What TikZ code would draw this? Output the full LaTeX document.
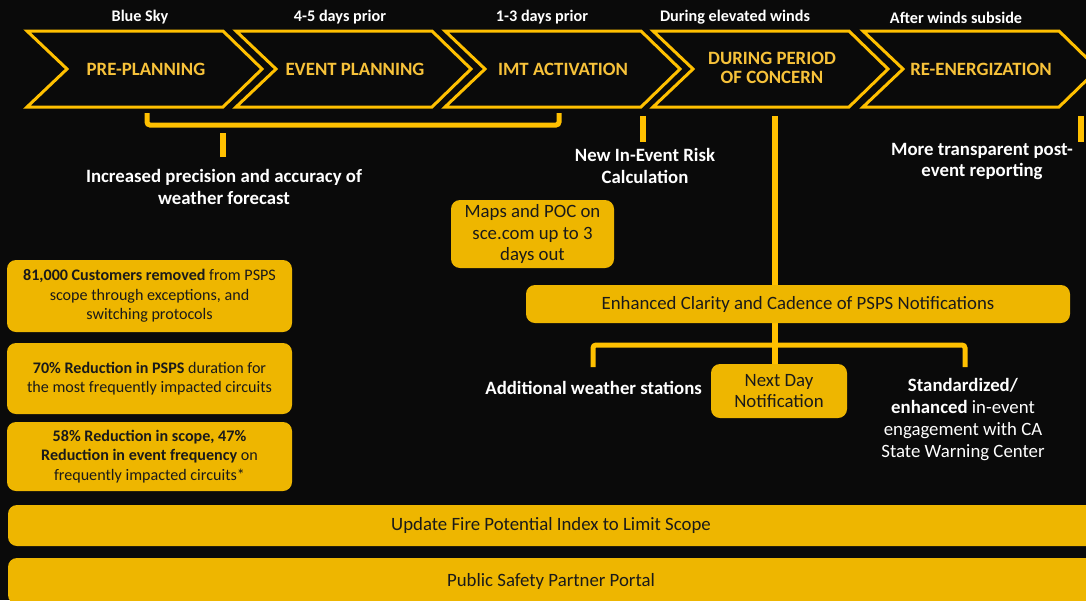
\documentclass[tikz,border=0pt]{standalone}
\usepackage{fontspec}
\setmainfont{Carlito}
\definecolor{bg}{HTML}{0A0A0A}
\definecolor{gold}{HTML}{FFC000}
\definecolor{boxgold}{HTML}{EEB600}
\definecolor{chevgold}{HTML}{F7C23A}
\definecolor{ink}{HTML}{1A1A1A}
\begin{document}
\begin{tikzpicture}[x=1pt,y=-1pt,
 chev/.style={draw=gold,line width=3pt,line join=miter},
 gbox/.style={fill=boxgold,rounded corners=9pt,inner sep=0pt,text=ink,align=center},
 wlbl/.style={text=white,font=\bfseries\fontsize{18.8}{22}\selectfont,align=center,inner sep=0pt},
 toplbl/.style={text=white,font=\bfseries\fontsize{16.2}{18}\selectfont,inner sep=0pt},
 chevtxt/.style={text=chevgold,font=\bfseries\fontsize{18.8}{19.5}\selectfont,align=center,inner sep=0pt},
 link/.style={draw=gold,line width=6pt},
 brk/.style={draw=gold,line width=5pt,rounded corners=3pt},
 boxtxt/.style={font=\fontsize{18.8}{21.5}\selectfont},
 smalltxt/.style={font=\fontsize{16.1}{19.5}\selectfont},
]
\useasboundingbox (0,0) rectangle (1086,600);
\clip (0,0) rectangle (1086,600);
\fill[bg] (0,0) rectangle (1086,600);

% chevrons
\foreach \x in {27,236,445,653,863}{
  \draw[chev] (\x,31) -- ++(196,0) -- ++(39,38) -- ++(-39,38) -- ++(-196,0) -- ++(40,-38) -- cycle;
}

% top labels
\node[toplbl] (t1) at (140,17) {Blue Sky};
\node[toplbl] (t2) at (340,17) {4-5 days prior};
\node[toplbl] (t3) at (542,17) {1-3 days prior};
\node[toplbl] (t4) at (735,17) {During elevated winds};
\node[toplbl] (t5) at (956,18) {After winds subside};

% chevron texts
\node[chevtxt] (pp) at (146,69) {PRE-PLANNING};
\node[chevtxt] (ep) at (355,69) {EVENT PLANNING};
\node[chevtxt] (imt) at (563,69) {IMT ACTIVATION};
\node[chevtxt] (dpc) at (772,68) {DURING PERIOD\\OF CONCERN};
\node[chevtxt] (re) at (981,69) {RE-ENERGIZATION};

% coordinates for connectors
\coordinate (b1l) at (147,113);
\coordinate (b1r) at (559,113);
\coordinate (s1top) at (223,133);
\coordinate (s1bot) at (223,157);
\coordinate (s2top) at (643,116);
\coordinate (s2bot) at (643,142);
\coordinate (s3top) at (775,116);
\coordinate (s4top) at (1081,116);
\coordinate (s4bot) at (1081,142);
\coordinate (b2l) at (593,367);
\coordinate (b2r) at (965,367);

% connectors
\draw[brk] (b1l) -- (147,125) -- (559,125) -- (b1r);
\draw[link] (s1top) -- (s1bot);
\draw[link] (s2top) -- (s2bot);
\draw[link] (s4top) -- (s4bot);

% white labels
\node[wlbl] (wf) at (224,187) {Increased precision and accuracy of\\weather forecast};
\node[wlbl] (risk) at (645,166) {New In-Event Risk\\Calculation};
\node[wlbl,font=\bfseries\fontsize{18.8}{21}\selectfont] (post) at (982,161.5) {More transparent post-\\event reporting};

% boxes
\node[gbox,boxtxt,minimum width=163pt,minimum height=68pt] (maps) at (532.5,234) {Maps and POC on\\sce.com up to 3\\days out};

\node[gbox,boxtxt,minimum width=136pt,minimum height=54pt] (nd) at (779,391) {Next Day\\Notification};
\draw[link] (s3top) -- (s3top |- nd.north);
\draw[brk] (b2l) -- (593,345) -- (965,345) -- (b2r);
\node[gbox,boxtxt,minimum width=544pt,minimum height=38pt] (enh) at (798,304) {Enhanced Clarity and Cadence of PSPS Notifications};

\node[wlbl,anchor=east] (aws) at (702,388) {Additional weather stations};
\node[wlbl,font=\fontsize{18.8}{21.7}\selectfont] (std) at (963,419.5) {\textbf{Standardized/}\\\textbf{enhanced} in-event\\engagement with CA\\State Warning Center};

\node[gbox,smalltxt,minimum width=285pt,minimum height=72pt] (c1) at (149.5,296) {\textbf{81,000 Customers removed} from PSPS\\scope through exceptions, and\\switching protocols};
\node[gbox,smalltxt,minimum width=285pt,minimum height=71pt] (c2) at (149.5,378.5) {\textbf{70\% Reduction in PSPS} duration for\\the most frequently impacted circuits};
\node[gbox,smalltxt,minimum width=285pt,minimum height=69pt] (c3) at (149.5,456.5) {\textbf{58\% Reduction in scope, 47\%}\\\textbf{Reduction in event frequency} on\\frequently impacted circuits*};

% bottom bars
\node[gbox,boxtxt,minimum width=1092pt,minimum height=41pt] (fpi) at (554,525.5) {\hspace*{-6pt}Update Fire Potential Index to Limit Scope};
\node[gbox,boxtxt,minimum width=1092pt,minimum height=46pt] (psp) at (554,581) {\hspace*{-6pt}Public Safety Partner Portal};
\end{tikzpicture}
\end{document}
